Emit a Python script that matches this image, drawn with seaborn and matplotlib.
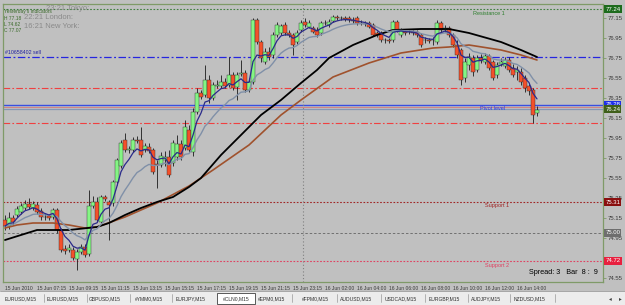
import numpy as np
import pandas as pd
import seaborn as sns
import matplotlib
matplotlib.use("Agg")
import matplotlib.pyplot as plt
import matplotlib.transforms as mtransforms
from matplotlib.patches import Rectangle

# #CLN0, M15 candles: 15 Jun 2010 05:15 -> 16 Jun 14:00
opens = [75.13, 75.07, 75.15, 75.18, 75.21, 75.25, 75.29, 75.25, 75.28, 75.22,
         75.16, 75.17, 75.16, 75.23, 75.03, 74.84, 74.83, 74.83, 74.74, 74.81,
         74.86, 74.79, 75.27, 75.31, 75.11, 75.36, 75.31, 75.30, 75.51, 75.67,
         75.93, 75.83, 75.83, 75.93, 75.93, 75.83, 75.86, 75.83, 75.69, 75.68,
         75.73, 75.76, 75.70, 75.76, 75.89, 75.85, 76.03, 75.81, 76.21, 76.40,
         76.38, 76.53, 76.35, 76.47, 76.47, 76.51, 76.48, 76.58, 76.46, 76.59,
         76.60, 76.43, 76.51, 77.13, 76.91, 76.71, 76.81, 76.78, 76.98, 77.00,
         77.08, 77.00, 76.98, 76.91, 77.03, 77.11, 77.06, 77.05, 77.03, 77.00,
         77.10, 77.08, 77.12, 77.16, 77.15, 77.15, 77.15, 77.13, 77.15, 77.10,
         77.10, 77.10, 77.08, 77.00, 77.00, 76.93, 76.93, 76.93, 77.11, 76.98,
         77.01, 77.01, 77.01, 77.01, 76.98, 76.93, 76.93, 76.93, 76.91, 77.10,
         77.03, 77.05, 76.98, 76.88, 76.83, 76.55, 76.68, 76.75, 76.63, 76.75,
         76.71, 76.77, 76.71, 76.58, 76.69, 76.67, 76.73, 76.65, 76.61, 76.61,
         76.55, 76.47, 76.43, 76.20]
highs = [75.18, 75.21, 75.18, 75.27, 75.30, 75.33, 75.35, 75.32, 75.31, 75.25,
         75.20, 75.19, 75.25, 75.25, 75.05, 74.88, 74.89, 74.86, 74.84, 74.89,
         74.89, 75.43, 75.37, 75.36, 75.38, 75.38, 75.33, 75.53, 75.75, 75.93,
         76.00, 75.87, 75.96, 75.97, 76.06, 75.90, 75.90, 75.85, 75.73, 75.81,
         75.82, 75.83, 75.93, 75.98, 75.93, 76.13, 76.08, 76.25, 76.45, 76.43,
         76.68, 76.58, 76.51, 76.53, 76.58, 76.55, 76.76, 76.61, 76.61, 76.73,
         76.63, 76.55, 77.15, 77.15, 76.93, 76.85, 76.86, 77.01, 77.11, 77.09,
         77.11, 77.03, 77.00, 77.03, 77.13, 77.15, 77.13, 77.07, 77.06, 77.12,
         77.13, 77.14, 77.18, 77.18, 77.17, 77.17, 77.17, 77.16, 77.17, 77.13,
         77.12, 77.12, 77.10, 77.02, 77.02, 76.95, 76.95, 77.13, 77.13, 77.05,
         77.03, 77.03, 77.03, 77.03, 77.00, 76.96, 76.95, 76.96, 77.13, 77.12,
         77.08, 77.07, 77.00, 76.93, 76.85, 76.75, 76.80, 76.78, 76.78, 76.79,
         76.80, 76.79, 76.73, 76.71, 76.75, 76.76, 76.76, 76.69, 76.67, 76.65,
         76.58, 76.50, 76.45, 76.27]
lows = [75.03, 75.04, 75.08, 75.16, 75.19, 75.23, 75.24, 75.23, 75.19, 75.13,
        75.13, 75.13, 75.14, 75.00, 74.81, 74.79, 74.81, 74.73, 74.63, 74.79,
        74.76, 74.77, 75.25, 75.11, 75.10, 75.32, 74.93, 75.27, 75.48, 75.65,
        75.81, 75.80, 75.81, 75.90, 75.76, 75.81, 75.80, 75.59, 75.45, 75.66,
        75.67, 75.56, 75.67, 75.73, 75.73, 75.83, 75.81, 75.77, 76.19, 76.34,
        76.36, 76.30, 76.33, 76.45, 76.45, 76.45, 76.46, 76.43, 76.33, 76.57,
        76.41, 76.41, 76.49, 76.89, 76.71, 76.69, 76.73, 76.75, 76.96, 76.98,
        76.98, 76.96, 76.78, 76.89, 77.01, 77.06, 77.05, 77.00, 76.96, 76.98,
        77.08, 77.06, 77.11, 77.13, 77.13, 77.12, 77.11, 77.10, 77.08, 77.08,
        77.07, 77.05, 76.97, 76.96, 76.91, 76.90, 76.90, 76.91, 77.01, 76.96,
        76.98, 76.99, 76.98, 76.96, 76.86, 76.90, 76.90, 76.88, 76.89, 77.01,
        77.01, 76.96, 76.86, 76.75, 76.48, 76.51, 76.63, 76.57, 76.61, 76.70,
        76.69, 76.63, 76.53, 76.55, 76.67, 76.65, 76.61, 76.56, 76.53, 76.48,
        76.41, 76.38, 76.10, 76.17]
closes = [75.07, 75.15, 75.11, 75.24, 75.27, 75.29, 75.26, 75.29, 75.21, 75.16,
          75.16, 75.15, 75.23, 75.03, 74.83, 74.82, 74.85, 74.75, 74.81, 74.86,
          74.78, 75.27, 75.31, 75.13, 75.36, 75.34, 75.28, 75.51, 75.73, 75.90,
          75.83, 75.84, 75.93, 75.92, 75.78, 75.87, 75.82, 75.61, 75.68, 75.77,
          75.76, 75.58, 75.90, 75.89, 75.76, 76.06, 75.83, 76.21, 76.40, 76.36,
          76.53, 76.35, 76.48, 76.48, 76.51, 76.47, 76.58, 76.45, 76.58, 76.60,
          76.43, 76.51, 77.13, 76.91, 76.75, 76.81, 76.76, 76.98, 77.08, 77.07,
          77.00, 76.98, 76.88, 77.00, 77.10, 77.08, 77.10, 77.01, 76.98, 77.10,
          77.10, 77.11, 77.16, 77.15, 77.15, 77.14, 77.13, 77.12, 77.10, 77.10,
          77.09, 77.06, 76.98, 76.98, 76.93, 76.93, 76.92, 77.11, 77.03, 77.03,
          77.00, 77.01, 77.00, 76.98, 76.88, 76.93, 76.92, 76.93, 77.10, 77.03,
          77.05, 76.98, 76.88, 76.78, 76.53, 76.71, 76.76, 76.61, 76.75, 76.73,
          76.77, 76.65, 76.55, 76.68, 76.71, 76.73, 76.63, 76.58, 76.63, 76.51,
          76.45, 76.42, 76.18, 76.23]

# slow moving averages (bar index, price)
black_ma_bars = [0, 4, 8, 16, 23, 26, 30, 34, 38, 42, 46, 49, 54, 59, 64, 69,
                 74, 78, 81, 87, 93, 97, 104, 111, 116, 124, 129, 133]
black_ma_vals = [74.93, 74.98, 75.03, 75.03, 75.06, 75.10, 75.18, 75.25, 75.31,
                 75.36, 75.46, 75.55, 75.78, 75.98, 76.18, 76.33, 76.50, 76.63,
                 76.75, 76.88, 76.98, 77.03, 77.04, 77.04, 77.00, 76.91, 76.83,
                 76.76]
brown_ma_bars = [0, 3, 7, 12, 16, 20, 23, 30, 38, 46, 52, 61, 69, 74, 82, 91,
                 99, 107, 111, 116, 124, 129, 133]
brown_ma_vals = [75.05, 75.08, 75.10, 75.10, 75.08, 75.05, 75.06, 75.16, 75.30,
                 75.47, 75.63, 75.88, 76.18, 76.33, 76.56, 76.70, 76.80, 76.85,
                 76.86, 76.88, 76.83, 76.78, 76.73]

# horizontal levels
resistance_1 = 77.24
order_price = 76.76
red_levels = [76.45, 76.10]
pivot = 76.28
bid = 76.24
support_1 = 75.31
mid_level = 75.00
support_2 = 74.72

box_prices = [77.24, 76.28, 76.24, 75.31, 75.00, 74.72]
box_colors = ["#1d6b1d", "#1f2fe8", "#3f5f1a", "#8a0f0f", "#6e6e6e", "#e8203f"]

yticks = [77.15, 76.95, 76.75, 76.55, 76.35, 76.15, 75.95, 75.75, 75.55,
          75.35, 75.15, 74.95, 74.55]
xtick_bars = [0, 8, 16, 24, 32, 40, 48, 56, 64, 72, 80, 88, 96, 104, 112, 120, 128]
xtick_labels = ["15 Jun 2010", "15 Jun 07:15", "15 Jun 09:15", "15 Jun 11:15",
                "15 Jun 13:15", "15 Jun 15:15", "15 Jun 17:15", "15 Jun 19:15",
                "15 Jun 21:15", "15 Jun 23:15", "16 Jun 02:00", "16 Jun 04:00",
                "16 Jun 06:00", "16 Jun 08:00", "16 Jun 10:00", "16 Jun 12:00",
                "16 Jun 14:00"]

tab_names = ["EURUSD,M15", "EURUSD,M15", "GBPUSD,M15", "#YMM0,M15", "EURJPY,M15",
             "#CLN0,M15", "#EPM0,M15", "#FPM0,M15", "AUDUSD,M15", "USDCAD,M15",
             "EURGBP,M15", "AUDJPY,M15", "NZDUSD,M15"]
tab_centers = [21, 63, 105, 149, 191, 236, 272, 315, 356, 401, 444, 486, 529]
tab_seps = [44, 87, 130, 172, 292, 337, 381, 425, 468, 510, 555]

df = pd.DataFrame({"open": opens, "high": highs, "low": lows, "close": closes})
df["bar"] = np.arange(len(df))
df["ma_fast"] = df["close"].ewm(span=5, adjust=False).mean()
df["ma_mid"] = df["close"].ewm(span=13, adjust=False).mean()

sns.set_style("white")
plt.rcParams["font.family"] = ["Liberation Sans", "DejaVu Sans"]

W, H = 625, 305
bg = "#c0c0c0"
frame = "#7f9a68"
fig = plt.figure(figsize=(W / 100, H / 100), dpi=100, facecolor=bg)
ax = fig.add_axes([3 / W, 23 / H, 600 / W, 278 / H])
ax.set_facecolor(bg)
ax.set_xlim(-0.5, 149.5)
ax.set_ylim(74.51, 77.29)

# levels
ax.axhline(resistance_1, color="#3f7f3f", lw=0.8, ls=(0, (1.5, 1.5)), zorder=1)
ax.axhline(order_price, color="#2525e0", lw=0.9, ls=(0, (6, 2, 1.5, 2)), zorder=1)
for lv in red_levels:
    ax.axhline(lv, color="#f04040", lw=0.8, ls=(0, (6, 2, 1.5, 2)), zorder=1)
ax.axhline(pivot, color="#3a4ee0", lw=1.0, zorder=1)
ax.axhline(pivot - 0.02, color="#d86a6a", lw=0.5, zorder=1)
ax.axhline(bid, color="#8595b5", lw=0.9, zorder=1)
ax.axhline(support_1, color="#a02525", lw=0.8, ls=(0, (1.5, 1.5)), zorder=1)
ax.axhline(mid_level, color="#707070", lw=0.7, ls=(0, (2.5, 2)), zorder=1)
ax.axhline(support_2, color="#e04060", lw=0.8, ls=(0, (1.5, 1.5)), zorder=1)
ax.axvline(74.5, color="#808080", lw=0.8, ls=(0, (1, 2)), zorder=1)

ax.text(121, resistance_1 - 0.015, "Resistance 1", color="#2f7f2f", fontsize=4,
        ha="center", va="top")
ax.text(122, pivot - 0.015, "Pivot level", color="#2a3ae8", fontsize=4,
        ha="center", va="top")
ax.text(123, support_1 - 0.015, "Support 1", color="#a02525", fontsize=4,
        ha="center", va="top")
ax.text(123, support_2 - 0.015, "Support 2", color="#e04060", fontsize=4,
        ha="center", va="top")
ax.text(0, order_price + 0.015, "#10658402 sell", color="#2020a0", fontsize=3.8,
        ha="left", va="bottom")

# candles
up = (df["close"] >= df["open"]).to_numpy()
ax.vlines(df["bar"], df["low"], df["high"], color="#1a1a1a", lw=0.6, zorder=3)
body_lo = np.minimum(df["open"], df["close"])
body_h = np.maximum((df["close"] - df["open"]).abs(), 0.004)
ax.bar(df["bar"], body_h, bottom=body_lo, width=0.78,
       color=np.where(up, "#84f584", "#f4502a"), edgecolor="#303030",
       linewidth=0.3, zorder=4)

# moving averages
sns.lineplot(x=brown_ma_bars, y=brown_ma_vals, ax=ax, color="#a0522d", lw=1.2, zorder=5)
sns.lineplot(x=black_ma_bars, y=black_ma_vals, ax=ax, color="#000000", lw=1.3, zorder=5)
sns.lineplot(data=df, x="bar", y="ma_mid", ax=ax, color="#8090a8", lw=1.0, zorder=6)
sns.lineplot(data=df, x="bar", y="ma_fast", ax=ax, color="#2a2a8a", lw=0.9, zorder=6)
ax.set_xlabel("")
ax.set_ylabel("")

# axes styling
for s in ax.spines.values():
    s.set_color(frame)
    s.set_linewidth(0.9)
ax.yaxis.tick_right()
ax.set_yticks(yticks)
ax.set_yticklabels([f"{v:.2f}" for v in yticks])
ax.tick_params(axis="y", length=2, width=0.6, color=frame, labelsize=4.3,
               labelcolor="#3a3a3a", pad=1.5)
ax.set_xticks(xtick_bars)
ax.set_xticklabels(xtick_labels, ha="left")
ax.tick_params(axis="x", length=2, width=0.6, color=frame, labelsize=3.6,
               labelcolor="#3a3a3a", pad=1)

# price boxes on the right scale
trans = mtransforms.blended_transform_factory(ax.transAxes, ax.transData)
for p, c in zip(box_prices, box_colors):
    ax.text(1.004, p, f"{p:.2f}", transform=trans, fontsize=4.3, color="white",
            ha="left", va="center", zorder=10, clip_on=False,
            bbox=dict(boxstyle="square,pad=0.18", fc=c, ec="none"))

# overlay texts top-left
green = "#3a6a2a"
fig.text(4 / W, 1 - 11 / H, "Yesterday's indicators", color=green, fontsize=3.5, va="center")
fig.text(4 / W, 1 - 18 / H, "H 77.18", color=green, fontsize=3.5, va="center")
fig.text(4 / W, 1 - 25 / H, "L 74.62", color=green, fontsize=3.5, va="center")
fig.text(4 / W, 1 - 31 / H, "C 77.07", color=green, fontsize=3.5, va="center")
fig.text(46 / W, 1 - 8 / H, "23:21 Tokyo:", color="#8a8a8a", fontsize=5.5, va="center")
fig.text(24 / W, 1 - 17.5 / H, "22:21 London:", color="#8a8a8a", fontsize=5.5, va="center")
fig.text(24 / W, 1 - 26 / H, "16:21 New York:", color="#8a8a8a", fontsize=5.5, va="center")

fig.text(598 / W, 1 - 272 / H, "Spread: 3   Bar  8 :  9", color="black",
         fontsize=5.2, va="center", ha="right")

# symbol tabs
tab = fig.add_axes([0, 0, 1, 14 / H])
tab.set_xlim(0, W)
tab.set_ylim(0, 14)
tab.set_axis_off()
tab.add_patch(Rectangle((0, 0), W, 14, fc="#ececec", ec="none"))
tab.plot([0, W], [13.6, 13.6], color="#9a9a9a", lw=0.6)
tab.add_patch(Rectangle((217, 1), 38, 11.5, fc="white", ec="#404040", lw=0.6))
for name, cx in zip(tab_names, tab_centers):
    tab.text(cx, 6.5, name, fontsize=3.6, color="#303030", ha="center", va="center")
for sx in tab_seps:
    tab.plot([sx, sx], [3, 11], color="#9a9a9a", lw=0.5)
tab.text(610, 6.5, "\u25c2", fontsize=4, color="#404040", ha="center", va="center")
tab.text(620, 6.5, "\u25b8", fontsize=4, color="#404040", ha="center", va="center")

fig.savefig("out.png", dpi=100, facecolor=bg)
